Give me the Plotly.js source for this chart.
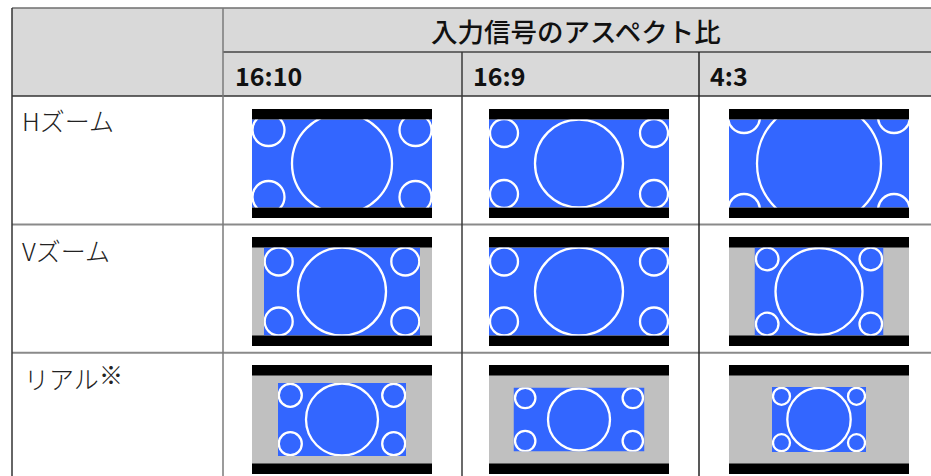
<!DOCTYPE html>
<html>
<head>
<meta charset="utf-8">
<script src="https://cdn.plot.ly/plotly-3.0.1.min.js"></script>
<style>
  html, body { margin: 0; padding: 0; background: #ffffff; }
  #chart { width: 931px; height: 476px; }
</style>
</head>
<body>
<div id="chart"></div>
<script>
// ---------- data ----------
const headerTitle = '入力信号のアスペクト比';
const colLabels = ['16:10', '16:9', '4:3'];
const rowLabels = ['Hズーム', 'Vズーム', 'リアル※'];

// picture content per cell (row-major: H, V, リアル × 16:10, 16:9, 4:3), frame units (frame 180 × 109)
const imageWidth   = [180, 180, 180,   156, 180, 129,   128, 131, 94];
const imageHeight  = [88, 88, 88,      88, 88, 88,      73, 64, 65];
const bigCircleR   = [50, 44, 62,      44, 44, 43.5,    36, 31, 31.7];
const smallCircleR = [16, 14, 16,      14, 14, 11.3,    11.5, 10.2, 8.5];
const cornerInsetX = [16.5, 15, 15,    14.7, 15, 12.7,  12.3, 11.7, 9.5];
const cornerInsetY = [10.5, 13.5, -2.5, 14, 14, 11.5,   12.3, 10.5, 9.3];

// ---------- layout geometry (pixels) ----------
const W = 931, H = 476;
const px = x => x / W;
const py = y => 1 - y / H;

const tableLeft = 12, tableTop = 8, headerMid = 52, headerBottom = 96;
const colEdges = [223, 462, 699];
const rowEdges = [224.5, 352.7];
const colTextX = [233, 471, 708];
const rowTextY = [120, 249.5, 377.5];
const frameX = [252, 489, 729];
const frameY = [109, 237, 365];
const frameW = 180, frameH = 109, barH = 10.5;

const BLUE = '#3366ff', GREY = '#c0c0c0';

const shapes = [];
const annotations = [];
const traces = [];
const layout = {
  width: W, height: H,
  margin: {l: 0, r: 0, t: 0, b: 0, pad: 0},
  paper_bgcolor: '#ffffff',
  plot_bgcolor: 'rgba(0,0,0,0)',
  showlegend: false,
  hovermode: false,
  font: {family: '"Noto Sans CJK JP", "Noto Sans", sans-serif', color: '#111111'}
};

function rectP(x0, y0, x1, y1, fill, layer) {
  shapes.push({type: 'rect', xref: 'paper', yref: 'paper',
    x0: px(x0), x1: px(x1), y0: py(y1), y1: py(y0),
    fillcolor: fill, line: {width: 0}, layer: layer || 'below'});
}
function lineP(x0, y0, x1, y1, color, w) {
  shapes.push({type: 'line', xref: 'paper', yref: 'paper',
    x0: px(x0), x1: px(x1), y0: py(y0), y1: py(y1),
    line: {color: color, width: w}, layer: 'below'});
}

// header fill
rectP(tableLeft, tableTop, W + 2, headerBottom, '#d9d9d9');

// grid lines
lineP(tableLeft, tableTop, W + 2, tableTop, '#6e6e6e', 1.5);
lineP(colEdges[0], headerMid, W + 2, headerMid, '#444444', 1.5);
lineP(tableLeft, headerBottom, W + 2, headerBottom, '#333333', 1.5);
rowEdges.forEach(y => lineP(tableLeft, y, W + 2, y, '#8a8a8a', 2));
lineP(tableLeft, tableTop, tableLeft, H + 2, '#333333', 1.5);
lineP(colEdges[0], tableTop, colEdges[0], H + 2, '#7a7a7a', 1.5);
lineP(colEdges[1], headerMid, colEdges[1], H + 2, '#3a3a3a', 1.5);
lineP(colEdges[2], headerMid, colEdges[2], H + 2, '#222222', 1.5);

// header texts
annotations.push({xref: 'paper', yref: 'paper', x: px(575.5), y: py(30),
  text: headerTitle, showarrow: false, xanchor: 'center', yanchor: 'middle',
  font: {size: 26.5, color: '#111111', weight: 500}});
colLabels.forEach((t, c) => annotations.push({xref: 'paper', yref: 'paper',
  x: px(colTextX[c]), y: py(75), text: '<b>' + t + '</b>', showarrow: false,
  xanchor: 'left', yanchor: 'middle', font: {size: 25, color: '#111111'}}));
rowLabels.forEach((t, r) => {
  const hasNote = t.endsWith('※');
  const main = hasNote ? t.slice(0, -1) : t;
  annotations.push({xref: 'paper', yref: 'paper',
    x: px(hasNote ? 22 : 20), y: py(rowTextY[r]), text: main, showarrow: false,
    xanchor: 'left', yanchor: 'middle', font: {size: 25, color: '#222222', weight: 300}});
  if (hasNote) {
    annotations.push({xref: 'paper', yref: 'paper',
      x: px(97), y: py(rowTextY[r] - 4.5), text: '※', showarrow: false,
      xanchor: 'left', yanchor: 'middle', font: {size: 24, color: '#222222'}});
  }
});

// pictures
for (let r = 0; r < rowLabels.length; r++) {
  for (let c = 0; c < colLabels.length; c++) {
    const i = r * colLabels.length + c;
    const id = i === 0 ? '' : String(i + 1);
    const fx = frameX[c], fy = frameY[r];
    // frame: grey area + black bars
    rectP(fx, fy, fx + frameW, fy + frameH, GREY, 'above');
    rectP(fx, fy, fx + frameW, fy + barH, '#000000', 'above');
    rectP(fx, fy + frameH - barH, fx + frameW, fy + frameH, '#000000', 'above');

    const w = imageWidth[i], h = imageHeight[i];
    const x0 = fx + (frameW - w) / 2, y0 = fy + (frameH - h) / 2;
    layout['xaxis' + id] = {domain: [px(x0), px(x0 + w)], range: [0, w], visible: false,
      fixedrange: true, anchor: 'y' + id, showgrid: false, zeroline: false};
    layout['yaxis' + id] = {domain: [py(y0 + h), py(y0)], range: [h, 0], visible: false,
      fixedrange: true, anchor: 'x' + id, showgrid: false, zeroline: false};

    // image area
    shapes.push({type: 'rect', xref: 'x' + id, yref: 'y' + id, x0: 0, x1: w, y0: 0, y1: h,
      fillcolor: BLUE, line: {width: 0}, layer: 'above'});
    // circles
    const circ = (cx, cy, rad) => shapes.push({type: 'circle', xref: 'x' + id, yref: 'y' + id,
      x0: cx - rad, x1: cx + rad, y0: cy - rad, y1: cy + rad,
      line: {color: '#ffffff', width: 2.3}, fillcolor: 'rgba(0,0,0,0)', layer: 'above'});
    circ(w / 2, h / 2, bigCircleR[i]);
    const sx = cornerInsetX[i], sy = cornerInsetY[i], sr = smallCircleR[i];
    circ(sx, sy, sr); circ(w - sx, sy, sr); circ(sx, h - sy, sr); circ(w - sx, h - sy, sr);

    traces.push({type: 'scatter', mode: 'markers', x: [w / 2], y: [h / 2],
      xaxis: 'x' + id, yaxis: 'y' + id, marker: {opacity: 0, size: 1},
      hoverinfo: 'skip', showlegend: false});
  }
}

layout.shapes = shapes;
layout.annotations = annotations;

Plotly.newPlot('chart', traces, layout, {staticPlot: true, displayModeBar: false});
</script>
</body>
</html>
